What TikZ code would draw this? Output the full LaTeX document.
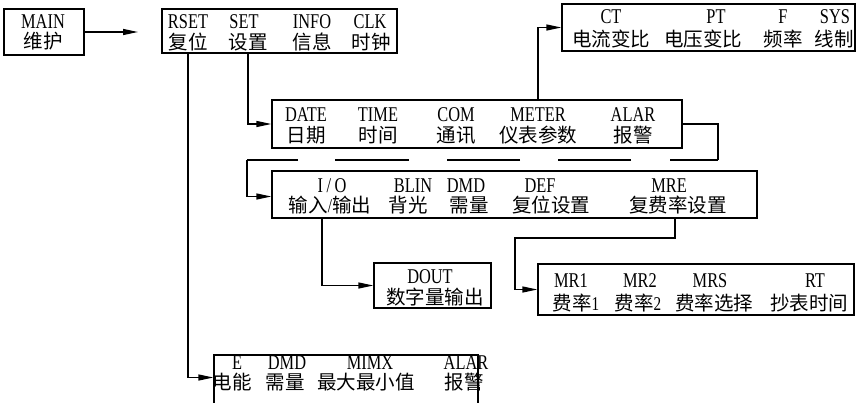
\documentclass[tikz,border=0pt]{standalone}
\usepackage{fontspec}
\setmainfont{Liberation Serif}
\newfontfamily\lat[FakeStretch=0.78]{Liberation Serif}
\newfontfamily\cjk{Noto Sans CJK SC}
\usetikzlibrary{arrows.meta,fit}
\tikzset{
  line/.style={line width=1.3pt},
  arr/.style={line, -{Triangle[length=15pt,width=6pt]}},
  box/.style={draw, line width=1.3pt, inner sep=0pt},
  lt/.style={font=\lat\fontsize{21}{21}\selectfont, anchor=base, inner sep=0pt},
  ct/.style={font=\cjk\fontsize{19.5}{20}\selectfont, anchor=center, inner sep=0pt}
}
\newcommand\colp[7]{\node[lt] (#1-a) at (#2,#3) {#6}; \node[ct] (#1-b) at (#4,#5) {#7};}
\begin{document}
\begin{tikzpicture}[x=1pt,y=-1pt]
\useasboundingbox (0,0) rectangle (866,402);
% MAIN
\node[box, fit={(4,9) (84,55)}] (mainbox) {};
\colp{main}{43}{28.5}{43}{41.5}{MAIN}{维护}
% RSET box
\node[box, fit={(162,9) (397,53)}] (rsetbox) {};
\colp{rset}{188}{28}{188}{42}{RSET}{复位}
\colp{set}{244}{28}{248}{42}{SET}{设置}
\colp{info}{312}{28}{312}{42}{INFO}{信息}
\colp{clk}{370}{28}{371}{42}{CLK}{时钟}
% CT box
\node[box, fit={(562,4) (855,51)}] (ctbox) {};
\colp{ct}{611}{23}{611}{39.5}{CT}{电流变比}
\colp{pt}{716}{23}{703}{39.5}{PT}{电压变比}
\colp{f}{783}{23}{783}{39.5}{F}{频率}
\colp{sys}{835}{23}{834}{39.5}{SYS}{线制}
% DATE box
\node[box, fit={(272,100) (682,148)}] (datebox) {};
\colp{date}{306}{121.5}{306}{135}{DATE}{日期}
\colp{time}{378}{121.5}{378}{135}{TIME}{时间}
\colp{com}{456}{121.5}{456}{135}{COM}{通讯}
\colp{meter}{538}{121.5}{538}{135}{METER}{仪表参数}
\colp{alar}{633}{121.5}{633}{135}{ALAR}{报警}
% I/O box
\node[box, fit={(272,171) (757,218)}] (iobox) {};
\colp{io}{332}{192.5}{330}{205}{I\,/\,O}{输入{\lat /}输出}
\colp{blin}{413}{192.5}{408}{205}{BLIN}{背光}
\colp{dmd}{466}{192.5}{469}{205}{DMD}{需量}
\colp{def}{540}{192.5}{551}{205}{DEF}{复位设置}
\colp{mre}{669}{192.5}{678}{205}{MRE}{复费率设置}
% DOUT box
\node[box, fit={(374,263) (491,308)}] (doutbox) {};
\colp{dout}{430}{283}{435}{297}{DOUT}{数字量输出}
% MR box
\node[box, fit={(538,264) (854,315)}] (mrbox) {};
\colp{mra}{571}{287.5}{576}{303}{MR1}{费率{\lat 1}}
\colp{mrb}{640}{287.5}{638}{303}{MR2}{费率{\lat 2}}
\colp{mrs}{710}{287.5}{714}{303}{MRS}{费率选择}
\colp{rt}{815}{287.5}{809}{303}{RT}{抄表时间}
% E box
\node[box, fit={(214,355) (478,404)}] (ebox) {};
\colp{e}{237}{369.5}{232}{382.5}{E}{电能}
\colp{edmd}{287}{369.5}{285}{382.5}{DMD}{需量}
\colp{mimx}{370}{369.5}{366}{382.5}{MIMX}{最大最小值}
\colp{ealar}{466}{369.5}{464}{382.5}{ALAR}{报警}
% connectors
\coordinate (mainend) at (138,32);
\draw[arr] (mainbox.east) -- (mainend);
\draw[arr] (rsetbox.south -| rset-b) |- ([yshift=2pt]ebox.west);
\draw[arr] (rsetbox.south -| set-b) |- (datebox.west);
\draw[arr] (datebox.north -| meter-a) |- (ctbox.west);
\coordinate (dR) at (718,160);
\coordinate (dL) at (247,160);
\draw[line] (datebox.east) -| (dR);
\draw[line, dash pattern=on 48pt off 39pt on 73pt off 38pt on 73pt off 38pt on 74pt off 37pt on 60pt] (dR) -- (dL);
\draw[arr] (dL) |- ([yshift=-2pt]iobox.west);
\draw[arr] ([xshift=-8pt]iobox.south -| io-b) |- (doutbox.west);
\coordinate (mrbend) at (515,238);
\draw[arr] ([xshift=-3pt]iobox.south -| mre-b) |- (mrbend) |- (mrbox.west);
\end{tikzpicture}
\end{document}
